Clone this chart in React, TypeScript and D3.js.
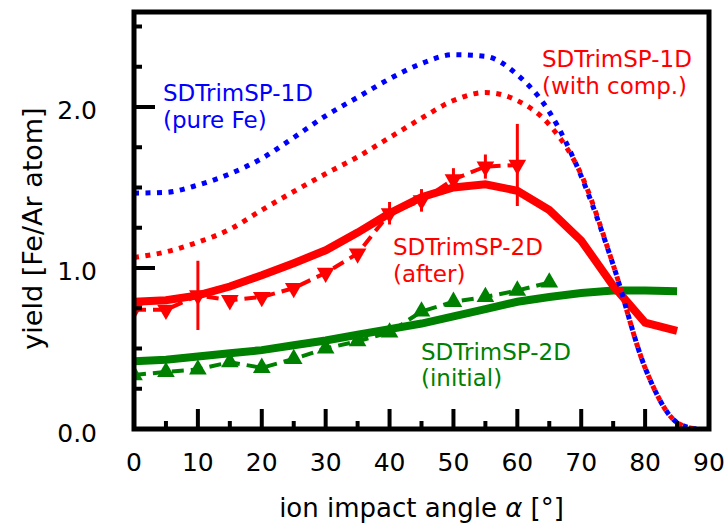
import React from 'react';
import * as d3 from 'd3';

// Canvas
const W = 724;
const H = 530;

// Simulation curves sampled on a regular angle grid (degrees)
const simAngles = [0, 5, 10, 15, 20, 25, 30, 35, 40, 45, 50, 55, 60, 65, 70, 75, 80, 85];
const after2D = [0.79, 0.8, 0.83, 0.885, 0.955, 1.03, 1.11, 1.22, 1.34, 1.44, 1.5, 1.52, 1.48, 1.36, 1.17, 0.89, 0.66, 0.61];
const initial2D = [0.42, 0.43, 0.45, 0.47, 0.49, 0.52, 0.55, 0.585, 0.62, 0.655, 0.7, 0.745, 0.79, 0.82, 0.845, 0.86, 0.86, 0.855];

// 1D curves extend to grazing incidence
const angles1D = [0, 5, 10, 15, 20, 25, 30, 35, 40, 45, 50, 55, 60, 65, 70, 75, 80, 85, 88];
const pureFe1D = [1.465, 1.47, 1.515, 1.585, 1.68, 1.81, 1.945, 2.06, 2.175, 2.27, 2.325, 2.315, 2.2, 1.97, 1.57, 1.02, 0.38, 0.04, 0.0];
const withComp1D = [1.065, 1.1, 1.16, 1.24, 1.36, 1.475, 1.585, 1.69, 1.81, 1.93, 2.04, 2.09, 2.04, 1.89, 1.58, 1.02, 0.38, 0.04, 0.0];

// Measured yields
const expAfterAngles = [0, 5, 10, 15, 20, 25, 30, 35, 40, 45, 50, 55, 60];
const expAfter = [0.74, 0.74, 0.83, 0.8, 0.82, 0.875, 0.97, 1.09, 1.34, 1.42, 1.55, 1.63, 1.64];
const expAfterErr = [0, 0, 0.215, 0, 0, 0, 0, 0, 0.07, 0.07, 0.07, 0.075, 0.255];
const expInitialAngles = [0, 5, 10, 15, 20, 25, 30, 35, 40, 45, 50, 55, 60, 65];
const expInitial = [0.335, 0.355, 0.37, 0.415, 0.38, 0.435, 0.5, 0.545, 0.6, 0.73, 0.79, 0.82, 0.86, 0.91];

// Axis ticks
const xMajor = [0, 10, 20, 30, 40, 50, 60, 70, 80, 90];
const xMinor = [5, 15, 25, 35, 45, 55, 65, 75, 85];
const yMajor = [0, 1, 2];
const yMinor = [0.25, 0.5, 0.75, 1.25, 1.5, 1.75, 2.25, 2.5];

const RED = '#ff0000';
const BLUE = '#0000ff';
const GREEN = '#008000';
const FONT = 'DejaVu Sans';

const plot = { left: 134, right: 709, top: 12, bottom: 429 };

export default function App() {
  const x = d3.scaleLinear().domain([0, 90]).range([plot.left, plot.right]);
  const y = d3.scaleLinear().domain([0, 2.59]).range([plot.bottom, plot.top]);

  const straight = d3
    .line<[number, number]>()
    .x((d) => x(d[0]))
    .y((d) => y(d[1]));
  const smooth = d3
    .line<[number, number]>()
    .x((d) => x(d[0]))
    .y((d) => y(d[1]))
    .curve(d3.curveMonotoneX);

  const zip = (a: number[], b: number[]) => a.map((v, i) => [v, b[i]] as [number, number]);

  const triUp = d3.symbol().type(d3.symbolTriangle).size(135)();
  const labelStyle = { fontFamily: FONT, fontSize: 23 };

  return (
    <svg width={W} height={H} style={{ position: 'absolute', left: 0, top: 0, background: '#fff' }}>
      <defs>
        <clipPath id="plotArea">
          <rect x={plot.left} y={plot.top} width={plot.right - plot.left} height={plot.bottom - plot.top} />
        </clipPath>
      </defs>

      <g clipPath="url(#plotArea)">
        {/* SDTrimSP-2D initial */}
        <path d={straight(zip(simAngles, initial2D)) || ''} fill="none" stroke={GREEN} strokeWidth={8} />
        <path
          d={straight(zip(expInitialAngles, expInitial)) || ''}
          fill="none"
          stroke={GREEN}
          strokeWidth={4}
          strokeDasharray="12 7"
        />
        {expInitialAngles.map((a, i) => (
          <path key={'gi' + i} d={triUp || ''} transform={`translate(${x(a)},${y(expInitial[i])})`} fill={GREEN} />
        ))}

        {/* SDTrimSP-2D after */}
        <path d={straight(zip(simAngles, after2D)) || ''} fill="none" stroke={RED} strokeWidth={8} />
        <path
          d={straight(zip(expAfterAngles, expAfter)) || ''}
          fill="none"
          stroke={RED}
          strokeWidth={4}
          strokeDasharray="12 7"
        />
        {expAfterAngles.map((a, i) =>
          expAfterErr[i] > 0 ? (
            <line
              key={'e' + i}
              x1={x(a)}
              x2={x(a)}
              y1={y(expAfter[i] - expAfterErr[i])}
              y2={y(expAfter[i] + expAfterErr[i])}
              stroke={RED}
              strokeWidth={3}
            />
          ) : null
        )}
        {expAfterAngles.map((a, i) => (
          <path
            key={'ra' + i}
            d={triUp || ''}
            transform={`translate(${x(a)},${y(expAfter[i])}) rotate(180)`}
            fill={RED}
          />
        ))}

        {/* SDTrimSP-1D curves */}
        <path
          d={smooth(zip(angles1D, pureFe1D)) || ''}
          fill="none"
          stroke={BLUE}
          strokeWidth={5}
          strokeDasharray="5 6.5"
        />
        <path
          d={smooth(zip(angles1D, withComp1D)) || ''}
          fill="none"
          stroke={RED}
          strokeWidth={5}
          strokeDasharray="5 6.5"
        />
      </g>

      {/* frame */}
      <rect
        x={plot.left}
        y={plot.top}
        width={plot.right - plot.left}
        height={plot.bottom - plot.top}
        fill="none"
        stroke="#000"
        strokeWidth={5}
      />

      {/* x ticks */}
      {xMajor.map((t) => (
        <g key={'xM' + t}>
          <line x1={x(t)} x2={x(t)} y1={plot.bottom} y2={plot.bottom - 20} stroke="#000" strokeWidth={4} />
          <text x={x(t)} y={471} textAnchor="middle" fontFamily={FONT} fontSize={25}>
            {t}
          </text>
        </g>
      ))}
      {xMinor.map((t) => (
        <line key={'xm' + t} x1={x(t)} x2={x(t)} y1={plot.bottom} y2={plot.bottom - 8} stroke="#000" strokeWidth={4} />
      ))}

      {/* y ticks */}
      {yMajor.map((t) => (
        <g key={'yM' + t}>
          <line x1={plot.left} x2={plot.left + 21} y1={y(t)} y2={y(t)} stroke="#000" strokeWidth={4} />
          <text x={97} y={y(t) + 12.5} textAnchor="end" fontFamily={FONT} fontSize={25}>
            {t.toFixed(1)}
          </text>
        </g>
      ))}
      {yMinor.map((t) => (
        <line key={'ym' + t} x1={plot.left} x2={plot.left + 8} y1={y(t)} y2={y(t)} stroke="#000" strokeWidth={4} />
      ))}

      {/* axis titles */}
      <text x={(plot.left + plot.right) / 2} y={517} textAnchor="middle" fontFamily={FONT} fontSize={26}>
        ion impact angle <tspan fontStyle="italic">α</tspan> [°]
      </text>
      <text
        transform={`translate(42,${(plot.top + plot.bottom) / 2 + 8}) rotate(-90)`}
        textAnchor="middle"
        fontFamily={FONT}
        fontSize={27}
      >
        yield [Fe/Ar atom]
      </text>

      {/* curve labels */}
      <g style={labelStyle}>
        <text x={163} y={101} fill={BLUE}>SDTrimSP-1D</text>
        <text x={163} y={128} fill={BLUE}>(pure Fe)</text>
        <text x={542} y={67} fill={RED}>SDTrimSP-1D</text>
        <text x={542} y={94} fill={RED}>(with comp.)</text>
        <text x={393} y={255} fill={RED}>SDTrimSP-2D</text>
        <text x={393} y={282} fill={RED}>(after)</text>
        <text x={421} y={360} fill={GREEN}>SDTrimSP-2D</text>
        <text x={421} y={386} fill={GREEN}>(initial)</text>
      </g>
    </svg>
  );
}
